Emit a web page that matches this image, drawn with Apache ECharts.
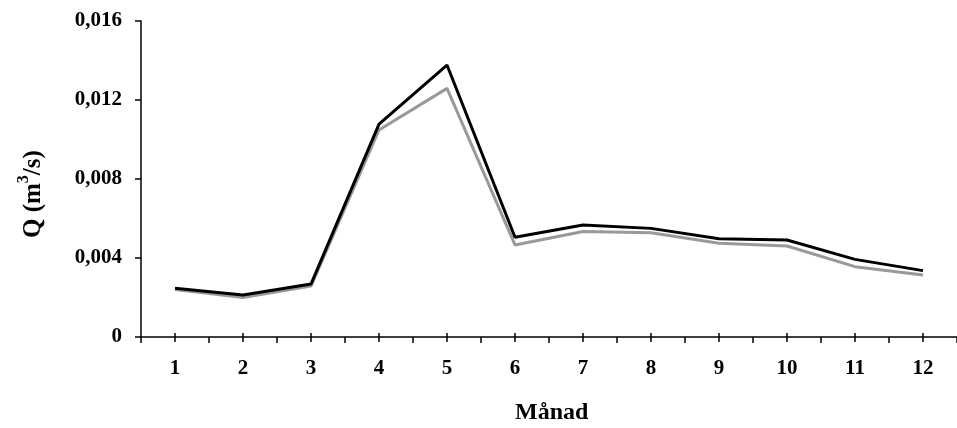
<!DOCTYPE html>
<html>
<head>
<meta charset="utf-8">
<script src="https://cdn.jsdelivr.net/npm/echarts@6/dist/echarts.min.js"></script>
<style>
html,body{margin:0;padding:0;background:#fff;}
#chart{width:957px;height:428px;}
</style>
</head>
<body>
<div id="chart"></div>
<script>
var months = ['1','2','3','4','5','6','7','8','9','10','11','12'];
var seriesBlack = [0.00247, 0.00213, 0.00268, 0.01078, 0.01377, 0.00505, 0.00567, 0.00550, 0.00497, 0.00491, 0.00393, 0.00336];
var seriesGray  = [0.00240, 0.00200, 0.00258, 0.01048, 0.01259, 0.00466, 0.00534, 0.00528, 0.00475, 0.00461, 0.00356, 0.00314];
var yTicks = [0, 0.004, 0.008, 0.012, 0.016];
var xName = 'Månad';
var yNameMain1 = 'Q (m';
var yNameSup = '3';
var yNameMain2 = '/s)';

var font = '"Liberation Serif", "Times New Roman", serif';
var chart = echarts.init(document.getElementById('chart'), null, {renderer: 'canvas'});
chart.setOption({
  animation: false,
  backgroundColor: '#fff',
  grid: {left: 141, top: 21, right: -3, bottom: 91, containLabel: false},
  xAxis: [{
    type: 'category',
    data: months,
    boundaryGap: true,
    axisLine: {show: true, lineStyle: {color: '#000', width: 1.5}},
    axisTick: {show: true, inside: false, length: 6, lineStyle: {color: '#000', width: 1.5}},
    axisLabel: {color: '#000', fontFamily: font, fontWeight: 'bold', fontSize: 21, margin: 21},
    splitLine: {show: false}
  }, {
    type: 'category',
    data: months,
    boundaryGap: true,
    position: 'bottom',
    offset: -4,
    axisLine: {show: false},
    axisTick: {show: true, alignWithLabel: true, inside: false, length: 9, lineStyle: {color: '#000', width: 1.5}},
    axisLabel: {show: false},
    splitLine: {show: false}
  }],
  yAxis: {
    type: 'value',
    min: yTicks[0],
    max: yTicks[yTicks.length - 1],
    interval: 0.004,
    axisLine: {show: true, lineStyle: {color: '#000', width: 1.5}},
    axisTick: {show: true, inside: false, length: 6, lineStyle: {color: '#000', width: 1.5}},
    axisLabel: {
      color: '#000', fontFamily: font, fontWeight: 'bold', fontSize: 21, margin: 19,
      formatter: function (v) { return v === 0 ? '0' : v.toFixed(3).replace('.', ','); }
    },
    splitLine: {show: false}
  },
  graphic: [{
    type: 'text',
    x: 515,
    y: 401,
    style: {text: xName, fontFamily: font, fontWeight: 'bold', fontSize: 24, fill: '#000'}
  }, {
    type: 'text',
    rotation: Math.PI / 2,
    x: 16,
    y: 238,
    style: {
      text: '{a|' + yNameMain1 + '}{s|' + yNameSup + '}{a|' + yNameMain2 + '}',
      rich: {
        a: {fontFamily: font, fontWeight: 'bold', fontSize: 25, fill: '#000', verticalAlign: 'bottom', lineHeight: 30},
        s: {fontFamily: font, fontWeight: 'bold', fontSize: 16, fill: '#000', verticalAlign: 'top', lineHeight: 30, padding: [0, 0, 12, 0]}
      }
    }
  }],
  series: [{
    name: 'gray',
    type: 'line',
    data: seriesGray,
    symbol: 'none',
    lineStyle: {color: '#999999', width: 3},
    z: 2
  }, {
    name: 'black',
    type: 'line',
    data: seriesBlack,
    symbol: 'none',
    lineStyle: {color: '#000000', width: 3},
    z: 3
  }]
});
</script>
</body>
</html>
